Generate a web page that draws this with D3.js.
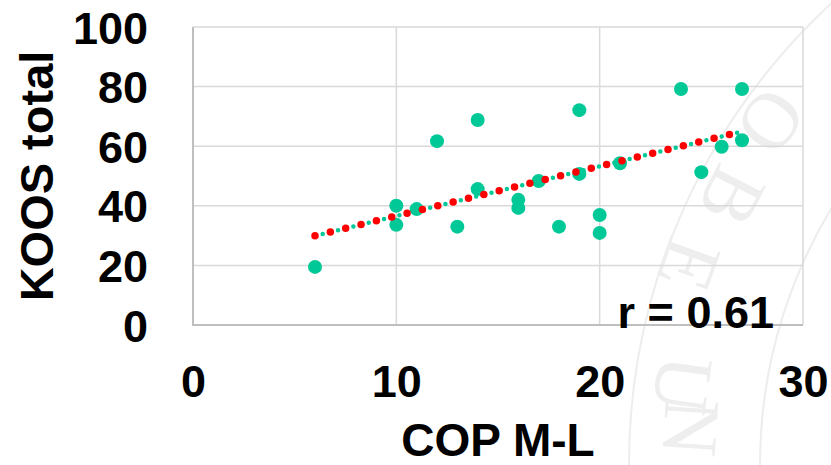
<!DOCTYPE html>
<html>
<head>
<meta charset="utf-8">
<script src="https://cdn.jsdelivr.net/npm/d3@7/dist/d3.min.js"></script>
<style>
  html, body { margin: 0; padding: 0; background: #ffffff; }
  svg { display: block; }
</style>
</head>
<body>
<div id="chart"></div>
<script>
// ---- data ----
const copML = [6, 10, 10, 11, 12, 13, 14, 14, 16, 16, 17, 18, 19, 19, 20, 20, 21, 24, 25, 26, 27, 27];
const koosTotal = [19.5, 40, 33.6, 38.9, 61.7, 33, 68.8, 45.6, 42, 39.3, 48.3, 33, 72.1, 50.7, 36.9, 30.9, 54.3, 79.2, 51.3, 59.8, 79.2, 62];
const xTicks = [0, 10, 20, 30];
const yTicks = [0, 20, 40, 60, 80, 100];
const xTitle = "COP M-L";
const yTitle = "KOOS total";
const rLabel = "r = 0.61";
const watermarkLetters = ["O", "B", "E", "U", "N"];

// ---- layout ----
const W = 831, H = 465;
const plot = { left: 193, right: 803, top: 27, bottom: 325 };
const green = "#00C997", red = "#FF0000";
const font = "'Liberation Sans', Arial, Helvetica, sans-serif";

const svg = d3.select("#chart").append("svg")
  .attr("width", W).attr("height", H).attr("viewBox", `0 0 ${W} ${H}`);

const x = d3.scaleLinear().domain([0, 30]).range([plot.left, plot.right]);
const y = d3.scaleLinear().domain([0, 100]).range([plot.bottom, plot.top]);

// ---- faint watermark (seal) behind the chart ----
const wm = svg.append("g").attr("fill", "none").attr("stroke", "#ededed").attr("stroke-width", 2);
const sealC = [1257, 465];
wm.append("circle").attr("cx", sealC[0]).attr("cy", sealC[1]).attr("r", 628);
wm.append("circle").attr("cx", sealC[0]).attr("cy", sealC[1]).attr("r", 497);
const letterPos = [[772, 122], [733, 197], [690, 265], [684, 385], [692, 428]];
const wmText = svg.append("g").attr("fill", "#eeeeee")
  .style("font-family", "'Liberation Serif', 'DejaVu Serif', serif").style("font-size", "80px");
letterPos.forEach((p, i) => {
  const ang = Math.atan2(sealC[1] - p[1], sealC[0] - p[0]) * 180 / Math.PI + 90;
  wmText.append("text").attr("transform", `translate(${p[0]},${p[1]}) rotate(${ang})`)
    .attr("text-anchor", "middle").attr("dy", "0.35em").text(watermarkLetters[i]);
});

// ---- gridlines ----
const grid = svg.append("g").attr("stroke", "#d9d9d9").attr("stroke-width", 1.5);
grid.selectAll("line.h").data(yTicks.filter(d => d > 0)).join("line")
  .attr("x1", plot.left).attr("x2", plot.right)
  .attr("y1", d => y(d)).attr("y2", d => y(d));
grid.selectAll("line.v").data(xTicks.filter(d => d > 0)).join("line")
  .attr("x1", d => x(d)).attr("x2", d => x(d))
  .attr("y1", plot.top).attr("y2", plot.bottom);

// ---- axis lines (left and bottom) ----
svg.append("line").attr("x1", plot.left).attr("x2", plot.left)
  .attr("y1", plot.top).attr("y2", plot.bottom + 1)
  .attr("stroke", "#bfbfbf").attr("stroke-width", 2);
svg.append("line").attr("x1", plot.left - 1).attr("x2", plot.right)
  .attr("y1", plot.bottom).attr("y2", plot.bottom)
  .attr("stroke", "#bfbfbf").attr("stroke-width", 2);

// ---- axes labels via d3 axes ----
const xAxis = svg.append("g").attr("transform", `translate(0,${plot.bottom})`)
  .call(d3.axisBottom(x).tickValues(xTicks).tickSize(0).tickFormat(d3.format("d")));
xAxis.select(".domain").remove();
xAxis.selectAll("text").attr("y", 72).attr("dy", 0)
  .style("font-family", font).style("font-size", "45px").style("font-weight", "bold").attr("fill", "#000");

const yAxis = svg.append("g").attr("transform", `translate(${plot.left},0)`)
  .call(d3.axisLeft(y).tickValues(yTicks).tickSize(0).tickFormat(d3.format("d")));
yAxis.select(".domain").remove();
yAxis.selectAll("text").attr("x", -45).attr("dy", 16)
  .style("font-family", font).style("font-size", "45px").style("font-weight", "bold").attr("fill", "#000");

// ---- points ----
const pts = copML.map((v, i) => ({ x: v, y: koosTotal[i] }));
svg.append("g").selectAll("circle").data(pts).join("circle")
  .attr("cx", d => x(d.x)).attr("cy", d => y(d.y)).attr("r", 7).attr("fill", green);

// ---- linear trendline (least squares from the data) ----
const mx = d3.mean(copML), my = d3.mean(koosTotal);
const slope = d3.sum(pts, d => (d.x - mx) * (d.y - my)) / d3.sum(pts, d => (d.x - mx) ** 2);
const icpt = my - slope * mx;
const x0 = d3.min(copML), x1 = d3.max(copML);
const trend = [{ x: x0, y: icpt + slope * x0 }, { x: x1, y: icpt + slope * x1 }];
const line = d3.line().x(d => x(d.x)).y(d => y(d.y));
svg.append("path").datum(trend).attr("d", line).attr("fill", "none")
  .attr("stroke", green).attr("stroke-width", 4.5).attr("stroke-linecap", "round")
  .attr("stroke-dasharray", "0 7.9");
svg.append("path").datum(trend).attr("d", line).attr("fill", "none")
  .attr("stroke", red).attr("stroke-width", 7.5).attr("stroke-linecap", "round")
  .attr("stroke-dasharray", "0 15.8");

// ---- titles ----
svg.append("text").attr("x", (plot.left + plot.right) / 2).attr("y", 456)
  .attr("text-anchor", "middle").style("font-family", font).style("font-size", "46px")
  .style("font-weight", "bold").text(xTitle);
svg.append("text").attr("transform", `translate(53,${(plot.top + plot.bottom) / 2}) rotate(-90)`)
  .attr("text-anchor", "middle").style("font-family", font).style("font-size", "47px")
  .style("font-weight", "bold").text(yTitle);
svg.append("text").attr("x", 774).attr("y", 328)
  .attr("text-anchor", "end").style("font-family", font).style("font-size", "45px")
  .style("font-weight", "bold").text(rLabel);
</script>
</body>
</html>
